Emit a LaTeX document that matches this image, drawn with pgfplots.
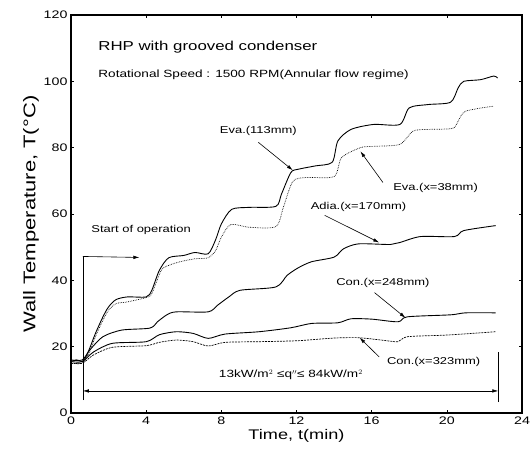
\documentclass[border=0pt]{standalone}
\usepackage{fontspec}
\setmainfont{Liberation Sans}[FakeStretch=1.3]
\usepackage{pgfplots}
\pgfplotsset{compat=1.18}
\usetikzlibrary{arrows.meta}

\pgfplotstableread{
t T
0 15.5
0.3 16
0.6 15.5
0.8 17
1.0 19.6
1.3 24
1.7 29
2.0 32
2.4 34.2
3.0 35
4.0 35
4.3 37
4.7 43
5.2 46.8
6.0 47.5
6.6 48.4
7.3 48
7.7 52.3
8.0 57
8.55 61.4
9.5 62
10.9 62.3
11.2 66
11.7 72.5
12.1 73.5
13 74.5
13.9 75.6
14.2 82
14.9 85.5
16.1 87
17.5 87
18 92
19 93
20.2 93.7
20.6 98
20.9 100
21.8 100.5
22.5 101.6
22.7 101
}\evaA

\pgfplotstableread{
t T
0 15
0.6 15
0.8 16.5
1 18.5
1.3 23
1.7 28
2 31
2.4 33
3 33.5
4 34.8
4.3 36
4.8 43
5.2 44.5
5.8 45.6
6.6 46.5
7.3 46.8
7.7 49
8 53
8.5 56.8
9.5 56
10.9 56.2
11.3 62
11.8 69.8
12.5 71
14 71.3
14.4 77
15.4 80
16.1 80.4
17.5 81
18.2 85
19 85.5
20.3 85.8
20.6 88
21 91
22.5 92.5
}\evaB

\pgfplotstableread{
t T
0 16
0.6 16
1 19
1.7 23
2.7 25
4.2 25.6
4.6 27.5
5.1 29.6
5.6 30.5
7.3 30.5
7.8 32.5
8.4 35
9 37
10.9 38
11.5 41.5
12.1 43.8
12.8 45.6
14 47
14.5 49.5
15.3 51
17 50.8
17.5 51.4
18.6 53.2
20.4 53.2
20.9 55
22.6 56.5
}\adia

\pgfplotstableread{
t T
0 15.5
0.6 15.5
1.2 18.4
2.2 21
4 21.5
4.7 23.6
5.6 24.5
6.5 24
7.3 22.5
8.2 23.8
10 24.5
11.7 25.7
12.8 27
14.2 27.2
14.9 28.4
16 28.3
17.4 27.5
17.9 29
20.2 29.6
21 30.2
22.6 30.2
}\conA

\pgfplotstableread{
t T
0 15
0.6 15
1.2 17.5
2.2 19.8
4 20.3
4.7 21.3
5.6 22
6.5 21.5
7.3 20.2
8.2 21.3
10 21.5
12.1 21.8
14 22.6
15.3 22.7
16.5 22
17.4 21.5
17.9 23
20 23.5
22.6 24.5
}\conB

\begin{document}
\begin{tikzpicture}
\begin{axis}[
  scale only axis,
  width=451bp, height=398bp,
  xmin=0, xmax=24, ymin=0, ymax=120,
  xtick={0,4,...,24}, ytick={0,20,...,120},
  axis line style={line width=1.2pt},
  tick style={black, line width=0.6pt},
  major tick length=3pt,
  tick align=inside,
  /pgf/number format/assume math mode=true,
  tick label style={font=\fontsize{11}{11}\selectfont},
  xlabel={Time, t(min)},
  ylabel={Wall Temperature, T(°C)},
  xlabel style={font=\fontsize{14}{14}\selectfont, yshift=2pt},
  ylabel style={font=\fontsize{17}{17}\selectfont, yshift=-2pt},
  clip=false,
  every axis plot/.append style={smooth, tension=0.45},
]
\addplot[black, line width=0.9pt] table[x=t,y=T] {\evaA};
\addplot[black, line width=0.7pt, densely dotted] table[x=t,y=T] {\evaB};
\addplot[black, line width=0.9pt] table[x=t,y=T] {\adia};
\addplot[black, line width=0.9pt] table[x=t,y=T] {\conA};
\addplot[black, line width=0.7pt, dash pattern=on 2pt off 1pt] table[x=t,y=T] {\conB};

\node[anchor=west, font=\fontsize{13}{13}\selectfont] at (axis cs:1.27,110.3) {RHP with grooved condenser};
\node[anchor=west, font=\fontsize{10.5}{10.5}\selectfont] at (axis cs:1.27,101.9) {Rotational Speed : 1500 RPM(Annular flow regime)};

\tikzset{lab/.style={font=\fontsize{10}{10}\selectfont}, arr/.style={black, line width=0.6pt, -{Latex[length=6pt,width=3.5pt]}}}
\node[lab] at (axis cs:9.97,84.9) {Eva.(113mm)};
\draw[arr] (axis cs:9.97,81.6) -- (axis cs:11.8,73.2);
\node[lab] at (axis cs:19.4,68) {Eva.(x=38mm)};
\draw[arr] (axis cs:16.6,69.5) -- (axis cs:15.4,78.9);
\node[lab] at (axis cs:15.3,62) {Adia.(x=170mm)};
\draw[arr] (axis cs:13.5,59.6) -- (axis cs:16.4,51.4);
\node[lab] at (axis cs:16.6,39.3) {Con.(x=248mm)};
\draw[arr] (axis cs:16.15,36.3) -- (axis cs:17.8,28.7);
\node[lab] at (axis cs:19.3,15.4) {Con.(x=323mm)};
\draw[arr] (axis cs:16.4,16.9) -- (axis cs:15.36,22.7);

\node[lab, anchor=west] at (axis cs:0.9,55.3) {Start of operation};
\draw[black, line width=0.6pt] (axis cs:0.63,3.9) -- (axis cs:0.63,47.2);
\draw[arr] (axis cs:0.63,47.2) -- (axis cs:3.64,46.9);

\node[lab, font=\fontsize{10.5}{10.5}\selectfont] at (axis cs:11.7,11.5) {13kW/m$^2$ ≤q$''$≤ 84kW/m$^2$};
\draw[black, line width=0.6pt, {Latex[length=6pt,width=3.5pt]}-{Latex[length=6pt,width=3.5pt]}] (axis cs:0.63,6.65) -- (axis cs:22.74,6.65);
\draw[black, line width=0.6pt] (axis cs:22.74,3.3) -- (axis cs:22.74,18.4);
\end{axis}
\pgfresetboundingbox
\path (current axis.south west) ++(-71bp,-47bp) coordinate (bl);
\path (current axis.north east) ++(9bp,15bp) coordinate (tr);
\useasboundingbox (bl) rectangle (tr);
\end{tikzpicture}
\end{document}
